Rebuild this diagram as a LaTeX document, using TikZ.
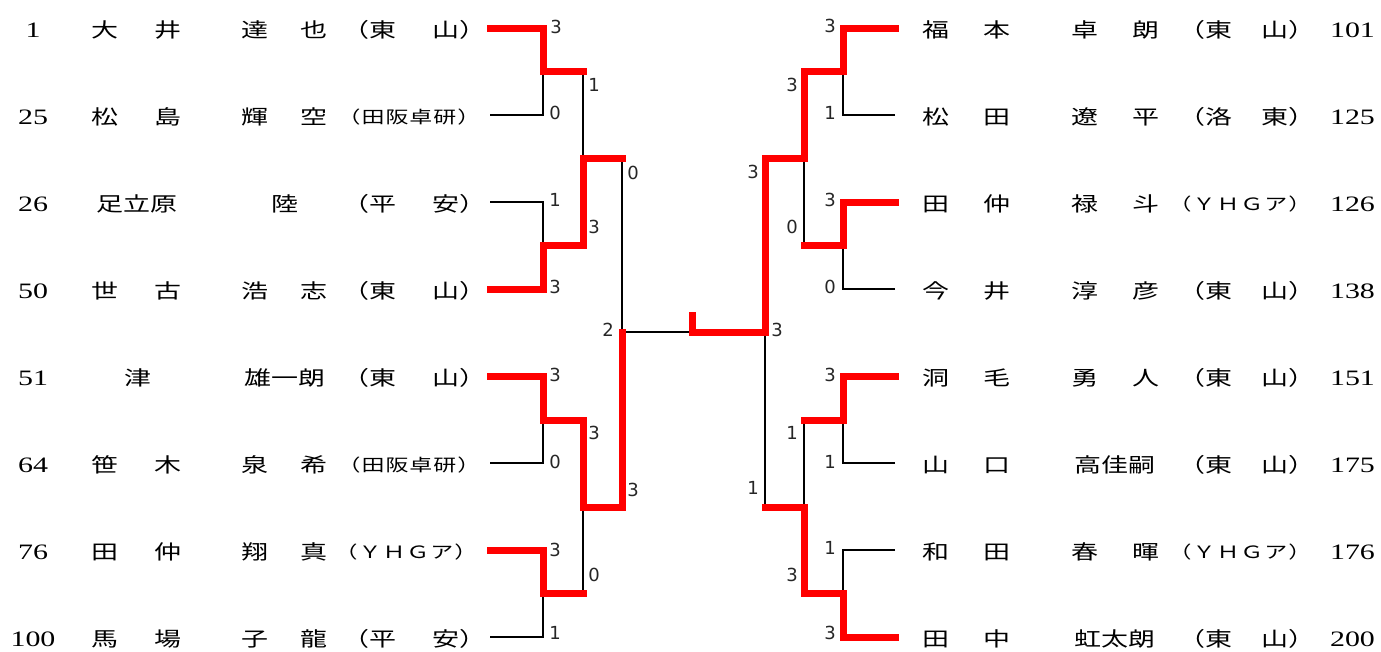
\documentclass[tikz,border=0pt]{standalone}
\usepackage{fontspec}
\newfontfamily\cjk[FakeStretch=1.35]{Noto Sans CJK JP}
\newfontfamily\numf[FakeStretch=1.36]{Liberation Serif}
\newfontfamily\scf{DejaVu Sans}
\newcommand\wn[1]{#1}
\newcommand\tw[3]{#1\hspace{#3pt}#2}
\newcommand\gp{\hspace{1pt}}
\tikzset{
  numst/.style={inner sep=0pt, font=\numf\fontsize{22}{22}\selectfont},
  nmst/.style={inner sep=0pt, font=\cjk\fontsize{20}{20}\selectfont},
  smst/.style={inner sep=0pt, font=\cjk\fontsize{17}{17}\selectfont},
  scst/.style={inner sep=0pt, font=\scf\fontsize{18}{18}\selectfont, text=black!85},
  win/.style={draw=red, line width=7pt, line cap=rect, line join=miter},
  lose/.style={draw=black, line width=2.6pt},
}
\begin{document}
\begin{tikzpicture}[x=1pt,y=-1pt]
\useasboundingbox (0,0) rectangle (1381,651);
% ---------- left side texts ----------
\node[numst] (ln1) at (33,30) {\wn{1}};
\node[nmst] (ls1) at (136.5,30) {\tw{大}{井}{36}};
\node[nmst] (lg1) at (284.5,30) {\tw{達}{也}{33}};
\node[nmst] (la1) at (414.5,30) {（\tw{東}{山}{36}）};

\node[numst] (ln2) at (33,117) {\wn{25}};
\node[nmst] (ls2) at (136.5,117) {\tw{松}{島}{36}};
\node[nmst] (lg2) at (284.5,117) {\tw{輝}{空}{33}};
\node[smst] (la2) at (409,117) {（\gp 田\gp 阪\gp 卓\gp 研\gp ）};

\node[numst] (ln3) at (33,204) {\wn{26}};
\node[nmst] (ls3) at (136.5,204) {足立原};
\node[nmst] (lg3) at (285,204) {陸};
\node[nmst] (la3) at (414.5,204) {（\tw{平}{安}{36}）};

\node[numst] (ln4) at (33,291) {\wn{50}};
\node[nmst] (ls4) at (136.5,291) {\tw{世}{古}{36}};
\node[nmst] (lg4) at (284.5,291) {\tw{浩}{志}{33}};
\node[nmst] (la4) at (414.5,291) {（\tw{東}{山}{36}）};

\node[numst] (ln5) at (33,378) {\wn{51}};
\node[nmst] (ls5) at (137.5,378) {津};
\node[nmst] (lg5) at (285,378) {雄一朗};
\node[nmst] (la5) at (414.5,378) {（\tw{東}{山}{36}）};

\node[numst] (ln6) at (33,465) {\wn{64}};
\node[nmst] (ls6) at (136.5,465) {\tw{笹}{木}{36}};
\node[nmst] (lg6) at (284.5,465) {\tw{泉}{希}{33}};
\node[smst] (la6) at (409,465) {（\gp 田\gp 阪\gp 卓\gp 研\gp ）};

\node[numst] (ln7) at (33,552) {\wn{76}};
\node[nmst] (ls7) at (136.5,552) {\tw{田}{仲}{36}};
\node[nmst] (lg7) at (284.5,552) {\tw{翔}{真}{33}};
\node[smst] (la7) at (406,552) {（\gp Ｙ\gp Ｈ\gp Ｇ\gp ア\gp ）};

\node[numst] (ln8) at (33,639) {\wn{100}};
\node[nmst] (ls8) at (136.5,639) {\tw{馬}{場}{36}};
\node[nmst] (lg8) at (284.5,639) {\tw{子}{龍}{33}};
\node[nmst] (la8) at (414.5,639) {（\tw{平}{安}{36}）};
% ---------- right side texts ----------
\node[nmst] (rs1) at (966.5,30) {\tw{福}{本}{34}};
\node[nmst] (rg1) at (1115,30) {\tw{卓}{朗}{34}};
\node[nmst] (ra1) at (1247,30) {（\tw{東}{山}{29}）};
\node[numst] (rn1) at (1352.5,30) {\wn{101}};

\node[nmst] (rs2) at (966.5,117) {\tw{松}{田}{34}};
\node[nmst] (rg2) at (1115,117) {\tw{遼}{平}{34}};
\node[nmst] (ra2) at (1247,117) {（\tw{洛}{東}{29}）};
\node[numst] (rn2) at (1352.5,117) {\wn{125}};

\node[nmst] (rs3) at (966.5,204) {\tw{田}{仲}{34}};
\node[nmst] (rg3) at (1115,204) {\tw{禄}{斗}{34}};
\node[smst] (ra3) at (1240,204) {（\gp Ｙ\gp Ｈ\gp Ｇ\gp ア\gp ）};
\node[numst] (rn3) at (1352.5,204) {\wn{126}};

\node[nmst] (rs4) at (966.5,291) {\tw{今}{井}{34}};
\node[nmst] (rg4) at (1115,291) {\tw{淳}{彦}{34}};
\node[nmst] (ra4) at (1247,291) {（\tw{東}{山}{29}）};
\node[numst] (rn4) at (1352.5,291) {\wn{138}};

\node[nmst] (rs5) at (966.5,378) {\tw{洞}{毛}{34}};
\node[nmst] (rg5) at (1115,378) {\tw{勇}{人}{34}};
\node[nmst] (ra5) at (1247,378) {（\tw{東}{山}{29}）};
\node[numst] (rn5) at (1352.5,378) {\wn{151}};

\node[nmst] (rs6) at (966.5,465) {\tw{山}{口}{34}};
\node[nmst] (rg6) at (1115,465) {高佳嗣};
\node[nmst] (ra6) at (1247,465) {（\tw{東}{山}{29}）};
\node[numst] (rn6) at (1352.5,465) {\wn{175}};

\node[nmst] (rs7) at (966.5,552) {\tw{和}{田}{34}};
\node[nmst] (rg7) at (1115,552) {\tw{春}{暉}{34}};
\node[smst] (ra7) at (1240,552) {（\gp Ｙ\gp Ｈ\gp Ｇ\gp ア\gp ）};
\node[numst] (rn7) at (1352.5,552) {\wn{176}};

\node[nmst] (rs8) at (966.5,639) {\tw{田}{中}{34}};
\node[nmst] (rg8) at (1115,639) {虹太朗};
\node[nmst] (ra8) at (1247,639) {（\tw{東}{山}{29}）};
\node[numst] (rn8) at (1352.5,639) {\wn{200}};
% ---------- bracket coordinates ----------
\coordinate (L1) at (490,28);  \coordinate (L2) at (490,115);
\coordinate (L3) at (490,202); \coordinate (L4) at (490,289);
\coordinate (L5) at (490,376); \coordinate (L6) at (490,463);
\coordinate (L7) at (490,550); \coordinate (L8) at (490,637);
\coordinate (LA1) at (543,71);  \coordinate (LA2) at (543,245);
\coordinate (LA3) at (543,420); \coordinate (LA4) at (543,593);
\coordinate (LB1) at (583,158); \coordinate (LB2) at (583,507);
\coordinate (LC) at (622,332);
\coordinate (CT) at (692,332);  \coordinate (CTt) at (692,315);
\coordinate (R1) at (895,28);  \coordinate (R2) at (895,115);
\coordinate (R3) at (895,202); \coordinate (R4) at (895,289);
\coordinate (R5) at (895,376); \coordinate (R6) at (895,463);
\coordinate (R7) at (895,550); \coordinate (R8) at (895,637);
\coordinate (RA1) at (843,71);  \coordinate (RA2) at (843,245);
\coordinate (RA3) at (843,420); \coordinate (RA4) at (843,593);
\coordinate (RB1) at (804,158); \coordinate (RB2) at (804,507);
\coordinate (RC) at (765,332);
% ---------- losing lines ----------
\draw[lose] (L2) -| (LA1);
\draw[lose] (L3) -| (LA2);
\draw[lose] (L6) -| (LA3);
\draw[lose] (L8) -| (LA4);
\draw[lose] (LB1 |- LA1) -- (LB1);
\draw[lose] (LB2 |- LA4) -- (LB2);
\draw[lose] (LC |- LB1) -- (LC) -- (CT);
\draw[lose] (R2) -| (RA1);
\draw[lose] (R4) -| (RA2);
\draw[lose] (R6) -| (RA3);
\draw[lose] (R7) -| (RA4);
\draw[lose] (RB1 |- RA2) -- (RB1);
\draw[lose] (RB2 |- RA3) -- (RB2);
\draw[lose] (RC |- RB2) -- (RC);
% ---------- winning lines ----------
\draw[win] (L1) -| (LA1) -- (LB1 |- LA1);
\draw[win] (L4) -| (LA2) -- (LB1 |- LA2) -- (LB1) -- (LC |- LB1);
\draw[win] (L5) -| (LA3) -- (LB2 |- LA3) -- (LB2) -- (LC |- LB2) -- (LC);
\draw[win] (L7) -| (LA4) -- (LB2 |- LA4);
\draw[win] (R1) -| (RA1) -- (RB1 |- RA1) -- (RB1) -- (RC |- RB1) -- (RC) -- (CT) -- (CTt);
\draw[win] (R3) -| (RA2) -- (RB1 |- RA2);
\draw[win] (R5) -| (RA3) -- (RB2 |- RA3);
\draw[win] (R8) -| (RA4) -- (RB2 |- RA4) -- (RB2) -- (RC |- RB2);
% ---------- scores ----------
\node[scst] (sl1) at (556,27) {3};
\node[scst] (sl2) at (555,113) {0};
\node[scst] (sl3) at (555,200) {1};
\node[scst] (sl4) at (555,287) {3};
\node[scst] (sl5) at (555,375) {3};
\node[scst] (sl6) at (555,462) {0};
\node[scst] (sl7) at (555,550) {3};
\node[scst] (sl8) at (555,633) {1};
\node[scst] (sl9) at (594,85) {1};
\node[scst] (sl10) at (594,227) {3};
\node[scst] (sl11) at (594,433) {3};
\node[scst] (sl12) at (594,575) {0};
\node[scst] (sl13) at (633,173) {0};
\node[scst] (sl14) at (633,490) {3};
\node[scst] (sl15) at (608,330) {2};
\node[scst] (sr1) at (830,26) {3};
\node[scst] (sr2) at (830,113) {1};
\node[scst] (sr3) at (830,200) {3};
\node[scst] (sr4) at (830,287) {0};
\node[scst] (sr5) at (830,375) {3};
\node[scst] (sr6) at (830,462) {1};
\node[scst] (sr7) at (830,548) {1};
\node[scst] (sr8) at (830,633) {3};
\node[scst] (sr9) at (792,85) {3};
\node[scst] (sr10) at (792,227) {0};
\node[scst] (sr11) at (792,433) {1};
\node[scst] (sr12) at (792,575) {3};
\node[scst] (sr13) at (753,172) {3};
\node[scst] (sr14) at (753,488) {1};
\node[scst] (sr15) at (777,330) {3};
\end{tikzpicture}
\end{document}
